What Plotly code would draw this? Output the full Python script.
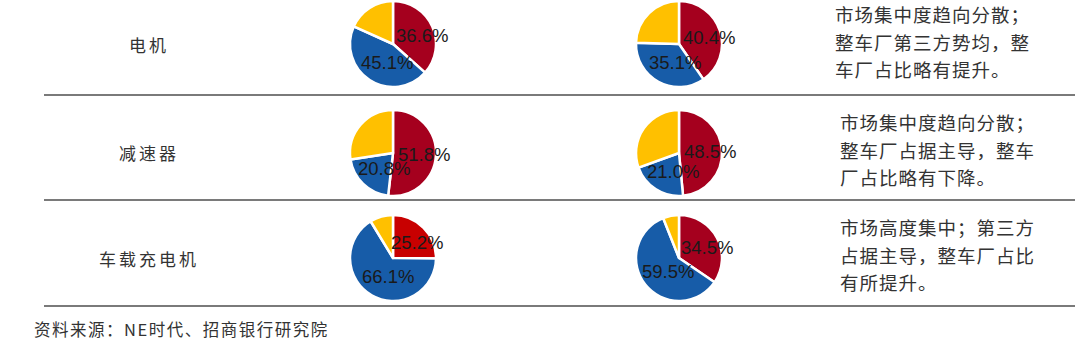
import math
import plotly.graph_objects as go

W, H = 1080, 352

# ---------------- data ----------------
row_labels = ["电机", "减速器", "车载充电机"]
# share of 整车厂 (red) and 第三方 (blue); the rest is others (yellow)
red_share = [[36.6, 40.4], [51.8, 48.5], [25.2, 34.5]]
blue_share = [[45.1, 35.1], [20.8, 21.0], [66.1, 59.5]]
comments = [
    ["市场集中度趋向分散；", "整车厂第三方势均，整", "车厂占比略有提升。"],
    ["市场集中度趋向分散；", "整车厂占据主导，整车", "厂占比略有下降。"],
    ["市场高度集中；第三方", "占据主导，整车厂占比", "有所提升。"],
]
source_text = "资料来源：NE时代、招商银行研究院"

# ---------------- layout / style ----------------
col_x = [393, 679]          # pie centre x (px)
row_y = [44, 153, 258]      # pie centre y (px)
radius = 43
row_lines_y = [95, 200, 306]
comment_x = [833, 838, 838]
comment_first_y = [14, 122, 227]
comment_line_gap = 27.5
colors = [
    [["#A5001E", "#175CA8", "#FFC000"], ["#A5001E", "#175CA8", "#FFC000"]],
    [["#A5001E", "#175CA8", "#FFC000"], ["#A5001E", "#175CA8", "#FFC000"]],
    [["#C80000", "#175CA8", "#FFC000"], ["#A5001E", "#175CA8", "#FFC000"]],
]
cjk_font = "Noto Sans CJK SC"
text_color = "#333333"


def spaced(s, px):
    return f'<span style="letter-spacing:{px}px">{s}</span>'


fig = go.Figure()
annotations = []
shapes = []

for i in range(3):
    for j in range(2):
        r_v = red_share[i][j]
        b_v = blue_share[i][j]
        y_v = round(100 - r_v - b_v, 1)
        vals = [r_v, b_v, y_v]
        cx, cy = col_x[j], row_y[i]
        fig.add_trace(go.Pie(
            values=vals,
            labels=["整车厂", "第三方", "其他"],
            sort=False,
            direction="clockwise",
            rotation=0,
            marker=dict(colors=colors[i][j], line=dict(color="white", width=2.5)),
            textinfo="none",
            hoverinfo="label+percent",
            showlegend=False,
            domain=dict(
                x=[(cx - radius) / W, (cx + radius) / W],
                y=[1 - (cy + radius) / H, 1 - (cy - radius) / H],
            ),
        ))
        # data labels for red and blue slices, placed along slice mid-angle
        start = 0.0
        for k, v in enumerate(vals[:2]):
            mid = (start + v / 2) / 100 * 2 * math.pi
            start += v
            lx = cx + 0.55 * radius * math.sin(mid) + 7
            ly = cy - 0.5 * radius * math.cos(mid)
            annotations.append(dict(
                x=lx / W, y=1 - ly / H, xref="paper", yref="paper",
                text=f"{v:.1f}%", showarrow=False,
                xanchor="center", yanchor="middle",
                font=dict(family="Liberation Sans, Arial", size=18.5, color="#1a1a1a"),
            ))

    # row label
    annotations.append(dict(
        x=149 / W, y=1 - row_y[i] / H, xref="paper", yref="paper",
        text=spaced(row_labels[i], 3), showarrow=False, xanchor="center", yanchor="middle",
        font=dict(family=cjk_font, size=17, color=text_color),
    ))
    # comments
    for m, line in enumerate(comments[i]):
        annotations.append(dict(
            x=comment_x[i] / W, y=1 - (comment_first_y[i] + m * comment_line_gap) / H,
            xref="paper", yref="paper", text=spaced(line, 1), showarrow=False,
            xanchor="left", yanchor="middle",
            font=dict(family=cjk_font, size=18.5, color=text_color),
        ))
    # separator line
    shapes.append(dict(
        type="line", xref="paper", yref="paper",
        x0=44 / W, x1=1075 / W, y0=1 - row_lines_y[i] / H, y1=1 - row_lines_y[i] / H,
        line=dict(color="#7a7a7a", width=2),
    ))

annotations.append(dict(
    x=32 / W, y=1 - 329 / H, xref="paper", yref="paper",
    text=spaced(source_text, 1.5), showarrow=False, xanchor="left", yanchor="middle",
    font=dict(family=cjk_font, size=16.5, color=text_color),
))

fig.update_layout(
    width=W, height=H,
    margin=dict(l=0, r=0, t=0, b=0),
    paper_bgcolor="white", plot_bgcolor="white",
    annotations=annotations, shapes=shapes,
)

fig.write_html("out.html", config={"displayModeBar": False})
